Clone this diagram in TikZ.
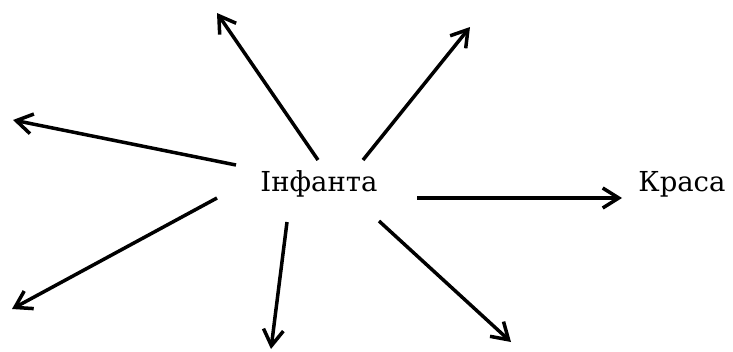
\documentclass[tikz,border=0pt]{standalone}
\usepackage{fontspec}
\setmainfont{DejaVu Serif}
\usetikzlibrary{positioning,arrows.meta}

\begin{document}
\begin{tikzpicture}[x=1pt,y=-1pt,line width=3.5pt]
\tikzstyle{word} = [inner sep=0pt,font=\fontsize{27.5}{32}\selectfont]
\tikzstyle{ray} = [-{Straight Barb[length=16pt,width=20pt]}]
\useasboundingbox (0,0) rectangle (733,351);
\node[word] (inf) at (319,184) {Інфанта} ;
\node[word] (kr) at (682,184) {Краса} ;
% ends of the rays
\coordinate (s1) at (318,160); \coordinate (t1) at (217,13);
\coordinate (s2) at (363,160); \coordinate (t2) at (470,27);
\coordinate (s3) at (236,165); \coordinate (t3) at (13,120);
\coordinate (s4) at (217,198); \coordinate (t4) at (12,309);
\coordinate (s5) at (287,222); \coordinate (t5) at (271,349);
\coordinate (s6) at (379,221); \coordinate (t6) at (511,342);
\coordinate (s7) at (417,198); \coordinate (t7) at (622,198);
\draw [ray] (s1) -- (t1) ;
\draw [ray] (s2) -- (t2) ;
\draw [ray] (s3) -- (t3) ;
\draw [ray] (s4) -- (t4) ;
\draw [ray] (s5) -- (t5) ;
\draw [ray] (s6) -- (t6) ;
\draw [ray] (s7) -- (t7) ;
\end{tikzpicture}
\end{document}
